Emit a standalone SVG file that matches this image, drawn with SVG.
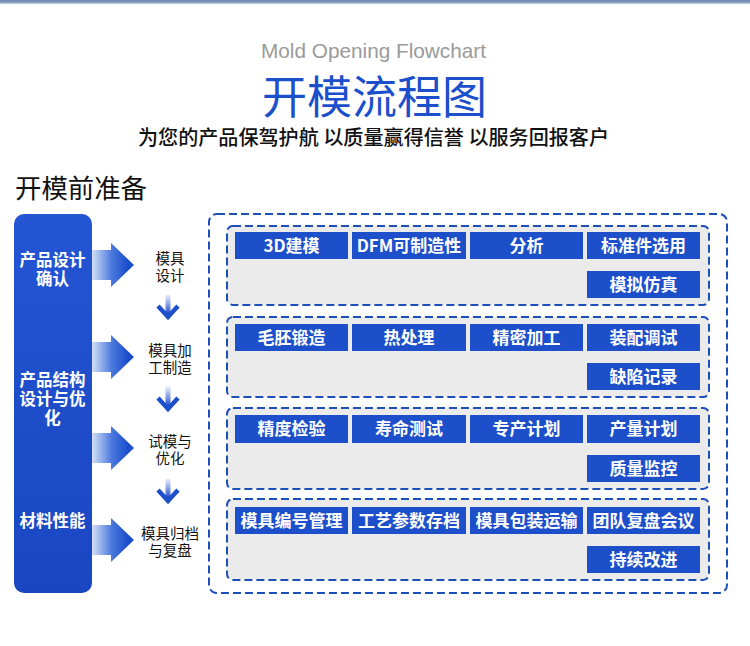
<svg xmlns="http://www.w3.org/2000/svg" width="750" height="646" viewBox="0 0 750 646">
<defs>
<style>
.cjk{font-family:"Noto Sans CJK SC","Noto Sans",sans-serif}
.lbl{font-family:"Noto Sans CJK SC",sans-serif;font-size:14.5px;fill:#111;text-anchor:middle}
.box{fill:#1d4fcb}
.boxt{font-family:"Noto Sans CJK SC",sans-serif;font-size:17px;font-weight:bold;fill:#fff;text-anchor:middle}
.grp{fill:#ebebeb;stroke:#1d4fb8;stroke-width:2;stroke-dasharray:8 4}
.colt{font-family:"Noto Sans CJK SC",sans-serif;font-size:16.5px;font-weight:bold;fill:#fff;text-anchor:middle}
</style>
<linearGradient id="topbar" x1="0" y1="0" x2="0" y2="1">
<stop offset="0" stop-color="#6c89ad"/>
<stop offset="0.6" stop-color="#8aa3c2"/>
<stop offset="1" stop-color="#ffffff" stop-opacity="0"/>
</linearGradient>
<linearGradient id="col" x1="0" y1="0" x2="0" y2="1">
<stop offset="0" stop-color="#2455d3"/>
<stop offset="1" stop-color="#1a46c2"/>
</linearGradient>
<linearGradient id="harrow" gradientUnits="userSpaceOnUse" x1="92" y1="0" x2="128" y2="0">
<stop offset="0" stop-color="#d4e0f7"/>
<stop offset="0.55" stop-color="#4a78dc"/>
<stop offset="1" stop-color="#1a4dcc"/>
</linearGradient>
<linearGradient id="vfade" x1="0" y1="0" x2="0" y2="1">
<stop offset="0" stop-color="#1d4fcb" stop-opacity="0.05"/>
<stop offset="1" stop-color="#1d4fcb"/>
</linearGradient>
<path id="bigArrow" d="M92,-15 H111 V-22 L134,0 L111,22 V15 H92 Z" fill="url(#harrow)"/>
<g id="downArrow">
<rect x="-2.5" y="0" width="5" height="20" fill="url(#vfade)"/>
<polyline points="-10,12 0,23 10,12" fill="none" stroke="#1d4fcb" stroke-width="4.5"/>
</g>
</defs>

<rect x="0" y="0" width="750" height="646" fill="#ffffff"/>

<g id="header">
<rect x="0" y="0" width="750" height="5" fill="url(#topbar)"/>
<text x="373.5" y="58" font-family="Liberation Sans, Arial, sans-serif" font-size="21" fill="#9a9a9a" text-anchor="middle" textLength="225" lengthAdjust="spacingAndGlyphs">Mold Opening Flowchart</text>
<text x="374.5" y="114" class="cjk" font-size="45" fill="#1b4fcc" text-anchor="middle" textLength="225" lengthAdjust="spacingAndGlyphs">开模流程图</text>
<text x="373.5" y="145" class="cjk" font-size="20" font-weight="500" fill="#111" text-anchor="middle" textLength="471" lengthAdjust="spacingAndGlyphs">为您的产品保驾护航 以质量赢得信誉 以服务回报客户</text>
<text x="15" y="198" class="cjk" font-size="26" fill="#111" textLength="132" lengthAdjust="spacingAndGlyphs">开模前准备</text>
</g>

<g id="prep-column">
<rect x="14" y="214" width="78" height="379" rx="10" fill="url(#col)"/>
<text class="colt"><tspan x="52.5" y="266">产品设计</tspan><tspan x="52.5" y="285">确认</tspan></text>
<text class="colt"><tspan x="52.5" y="386">产品结构</tspan><tspan x="52.5" y="405">设计与优</tspan><tspan x="52.5" y="424">化</tspan></text>
<text class="colt"><tspan x="52.5" y="527">材料性能</tspan></text>
</g>

<g id="connectors">
<use href="#bigArrow" y="265"/>
<use href="#bigArrow" y="357"/>
<use href="#bigArrow" y="448"/>
<use href="#bigArrow" y="540"/>
<use href="#downArrow" x="168" y="294"/>
<use href="#downArrow" x="168" y="386"/>
<use href="#downArrow" x="168" y="478"/>
</g>

<g id="step-design"><text class="lbl"><tspan x="170" y="264">模具</tspan><tspan x="170" y="281">设计</tspan></text></g>
<g id="step-manufacture"><text class="lbl"><tspan x="170" y="356">模具加</tspan><tspan x="170" y="373">工制造</tspan></text></g>
<g id="step-trial"><text class="lbl"><tspan x="170" y="447">试模与</tspan><tspan x="170" y="464">优化</tspan></text></g>
<g id="step-archive"><text class="lbl"><tspan x="170" y="539">模具归档</tspan><tspan x="170" y="556">与复盘</tspan></text></g>

<g id="detail-panel">
<rect x="209" y="214" width="518" height="379" rx="8" fill="#ffffff" stroke="#1d4fb8" stroke-width="2" stroke-dasharray="8 4"/>

<g id="group-design">
<rect class="grp" x="227" y="226" width="482" height="79" rx="6"/>
<g id="n-3d"><rect class="box" x="235" y="232" width="113" height="27"/><text class="boxt" x="291.5" y="252">3D建模</text></g>
<g id="n-dfm"><rect class="box" x="352" y="232" width="114" height="27"/><text class="boxt" x="409" y="252">DFM可制造性</text></g>
<g id="n-analysis"><rect class="box" x="470" y="232" width="113" height="27"/><text class="boxt" x="526.5" y="252">分析</text></g>
<g id="n-standard"><rect class="box" x="587" y="232" width="113" height="27"/><text class="boxt" x="643.5" y="252">标准件选用</text></g>
<g id="n-sim"><rect class="box" x="587" y="271" width="113" height="27"/><text class="boxt" x="643.5" y="291">模拟仿真</text></g>
</g>

<g id="group-manufacture">
<rect class="grp" x="227" y="317" width="482" height="80" rx="6"/>
<g id="n-forge"><rect class="box" x="235" y="324" width="113" height="27"/><text class="boxt" x="291.5" y="344">毛胚锻造</text></g>
<g id="n-heat"><rect class="box" x="352" y="324" width="114" height="27"/><text class="boxt" x="409" y="344">热处理</text></g>
<g id="n-precision"><rect class="box" x="470" y="324" width="113" height="27"/><text class="boxt" x="526.5" y="344">精密加工</text></g>
<g id="n-assembly"><rect class="box" x="587" y="324" width="113" height="27"/><text class="boxt" x="643.5" y="344">装配调试</text></g>
<g id="n-defect"><rect class="box" x="587" y="363" width="113" height="27"/><text class="boxt" x="643.5" y="383">缺陷记录</text></g>
</g>

<g id="group-trial">
<rect class="grp" x="227" y="408" width="482" height="81" rx="6"/>
<g id="n-accuracy"><rect class="box" x="235" y="415" width="113" height="28"/><text class="boxt" x="291.5" y="435">精度检验</text></g>
<g id="n-life"><rect class="box" x="352" y="415" width="114" height="28"/><text class="boxt" x="409" y="435">寿命测试</text></g>
<g id="n-dedicated"><rect class="box" x="470" y="415" width="113" height="28"/><text class="boxt" x="526.5" y="435">专产计划</text></g>
<g id="n-output"><rect class="box" x="587" y="415" width="113" height="28"/><text class="boxt" x="643.5" y="435">产量计划</text></g>
<g id="n-quality"><rect class="box" x="587" y="455" width="113" height="27"/><text class="boxt" x="643.5" y="475">质量监控</text></g>
</g>

<g id="group-archive">
<rect class="grp" x="227" y="499" width="482" height="81" rx="6"/>
<g id="n-number"><rect class="box" x="235" y="507" width="113" height="27"/><text class="boxt" x="291.5" y="527">模具编号管理</text></g>
<g id="n-params"><rect class="box" x="352" y="507" width="114" height="27"/><text class="boxt" x="409" y="527">工艺参数存档</text></g>
<g id="n-pack"><rect class="box" x="470" y="507" width="113" height="27"/><text class="boxt" x="526.5" y="527">模具包装运输</text></g>
<g id="n-review"><rect class="box" x="587" y="507" width="113" height="27"/><text class="boxt" x="643.5" y="527">团队复盘会议</text></g>
<g id="n-improve"><rect class="box" x="587" y="546" width="113" height="27"/><text class="boxt" x="643.5" y="566">持续改进</text></g>
</g>
</g>
</svg>
